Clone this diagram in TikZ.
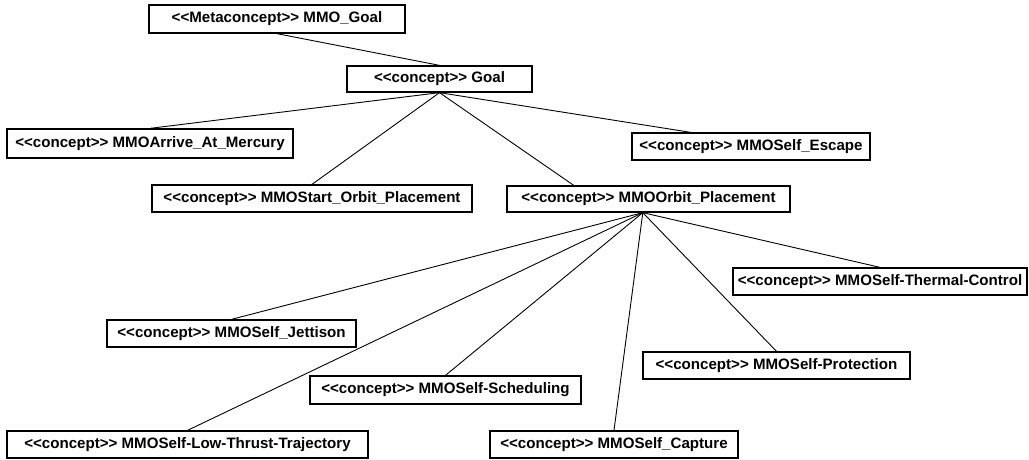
\documentclass[tikz,border=0pt]{standalone}
\usepackage{fontspec}
\setmainfont[Ligatures=NoCommon]{Liberation Sans}
\usetikzlibrary{calc}
\tikzset{
  cbox/.style={draw=black, line width=1.3pt, fill=white, inner sep=0pt, align=center,
    font=\fontsize{15.1}{17}\selectfont\bfseries},
  link/.style={draw=black, line width=0.9pt}
}
\newcommand{\st}{{<}{<}}
\newcommand{\en}{{>}{>}}
\newcommand{\boxat}[6]{% name, x1, x2, y1, y2, text
  \node[cbox, minimum width={(#3-#2)*1pt}, minimum height={(#5-#4)*1pt}] (#1) at ({(#2+#3)/2},{(#4+#5)/2}) {#6};}
\begin{document}
\begin{tikzpicture}[x=1pt,y=-1pt]
\useasboundingbox (0,0) rectangle (1029,459);
\boxat{meta}{149}{405}{5}{33}{\st Metaconcept\en{} MMO\_Goal}
\boxat{goal}{347}{532}{66}{92}{\st concept\en{} Goal}
\boxat{arrive}{7}{293}{129}{158}{\st concept\en{} MMOArrive\_At\_Mercury}
\boxat{escape}{632}{870}{133}{160}{\st concept\en{} MMOSelf\_Escape}
\boxat{start}{152}{472}{185}{212}{\st concept\en{} MMOStart\_Orbit\_Placement}
\boxat{orbit}{507}{790}{186}{212}{\st concept\en{} MMOOrbit\_Placement}
\boxat{thermal}{733}{1027}{268}{295}{\st concept\en{} MMOSelf-Thermal-Control}
\boxat{jett}{107}{356}{320}{347}{\st concept\en{} MMOSelf\_Jettison}
\boxat{prot}{643}{910}{352}{379}{\st concept\en{} MMOSelf-Protection}
\boxat{sched}{310}{581}{376}{404}{\st concept\en{} MMOSelf-Scheduling}
\boxat{low}{7}{368}{431}{458}{\st concept\en{} MMOSelf-Low-Thrust-Trajectory}
\boxat{capt}{490}{738}{431}{458}{\st concept\en{} MMOSelf\_Capture}

\coordinate (gs) at ($(goal.south west)!0.5!(goal.south east)$);
\coordinate (os) at ($(orbit.south west)!0.48!(orbit.south east)$);
\draw[link] (meta.south) -- (goal.north);
\draw[link] (gs) -- (arrive.north);
\draw[link] (gs) -- (start.north);
\draw[link] (gs) -- ($(orbit.north west)!0.237!(orbit.north east)$);
\draw[link] (gs) -- ($(escape.north west)!0.248!(escape.north east)$);
\draw[link] (os) -- (thermal.north);
\draw[link] (os) -- (jett.north);
\draw[link] (os) -- (low.north);
\draw[link] (os) -- (sched.north);
\draw[link] (os) -- (capt.north);
\draw[link] (os) -- (prot.north);
\end{tikzpicture}
\end{document}
